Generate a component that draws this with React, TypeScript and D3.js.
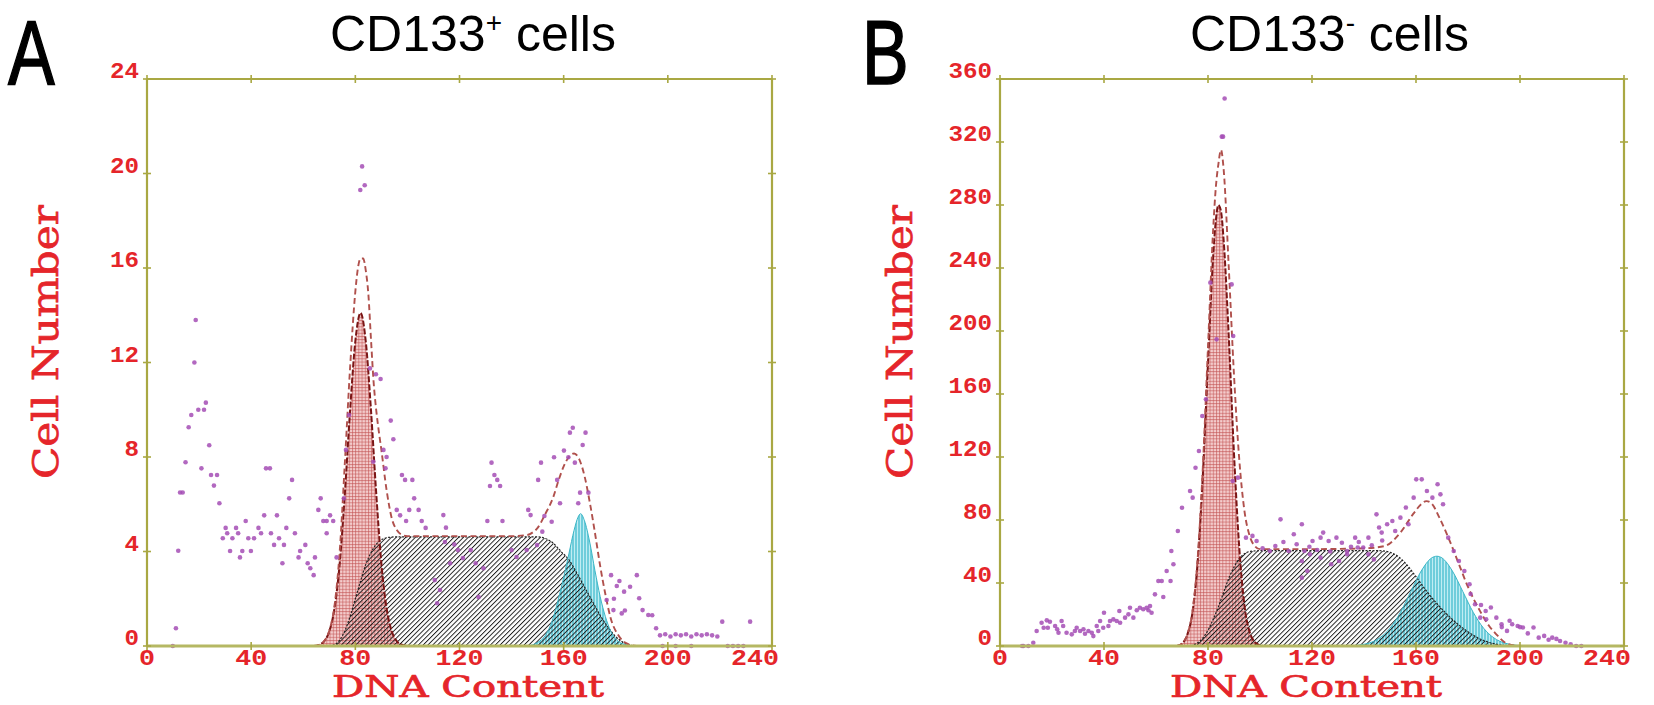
import React from 'react'
import * as d3 from 'd3'

type Pt = [number, number]

const xTicks = [0, 40, 80, 120, 160, 200, 240]
const yTicksA = [0, 4, 8, 12, 16, 20, 24]
const yTicksB = [0, 40, 80, 120, 160, 200, 240, 280, 320, 360]

// Panel A (CD133+) fitted components
const g1A: Pt[] = [[64, 0], [66, 0.05], [68, 0.2], [70, 0.62], [72, 1.6], [74, 3.5], [76, 6.5], [78, 10.0], [80, 12.9], [82, 14.1], [84, 12.9], [86, 10.0], [88, 6.5], [90, 3.5], [92, 1.6], [94, 0.62], [96, 0.2], [98, 0.05], [100, 0]]
const sA: Pt[] = [[70, 0], [72, 0.05], [74, 0.25], [76, 0.65], [78, 1.25], [80, 2.0], [82, 2.75], [84, 3.45], [86, 3.95], [88, 4.3], [90, 4.5], [93, 4.6], [96, 4.62], [150, 4.62], [153, 4.55], [156, 4.35], [159, 4.0], [162, 3.65], [165, 3.1], [168, 2.5], [171, 1.9], [174, 1.3], [177, 0.8], [180, 0.4], [183, 0.15], [186, 0.03], [188, 0]]
const g2A: Pt[] = [[146, 0], [150, 0.15], [153, 0.45], [156, 1.2], [158, 2.0], [160, 2.9], [162, 3.9], [164, 4.9], [165.5, 5.45], [166.5, 5.6], [168, 5.3], [170, 4.4], [172, 3.2], [174, 2.1], [176, 1.25], [178, 0.65], [181, 0.2], [184, 0.05], [186, 0]]
const fitA: Pt[] = [[64, 0], [66, 0.05], [68, 0.2], [70, 0.65], [72, 1.7], [74, 4.0], [76, 7.8], [78, 11.8], [80, 15.0], [81, 16.0], [82, 16.4], [83, 16.4], [84, 15.9], [85, 14.9], [86, 13.0], [87, 11.2], [88, 10.0], [89, 9.1], [90, 8.3], [92, 6.6], [94, 5.4], [96, 4.9], [98, 4.7], [100, 4.65], [140, 4.65], [146, 4.7], [148, 4.8], [150, 5.0], [153, 5.6], [156, 6.3], [158, 7.0], [160, 7.6], [162, 8.0], [164, 8.15], [166, 7.9], [168, 7.2], [170, 6.1], [172, 4.8], [174, 3.4], [176, 2.2], [178, 1.2], [181, 0.45], [184, 0.12], [188, 0]]
const pointsA: Pt[] = [
  [9.9, 0], [11.1, 0.75], [12.0, 4.03], [12.7, 6.5], [13.7, 6.5], [14.8, 7.78], [16.0, 9.26], [17.0, 9.78], [18.2, 12.0], [18.7, 13.8],
  [19.7, 10.0], [21.9, 10.0], [22.6, 10.3], [20.9, 7.52], [23.9, 8.5], [24.6, 7.24], [26.9, 7.24], [25.7, 6.79], [27.8, 6.04], [30.2, 5.0],
  [34.2, 5.0], [29.1, 4.56], [32.8, 4.56], [30.8, 4.77], [35.0, 4.77], [31.9, 4.02], [35.7, 3.75], [36.6, 4.02], [39.9, 4.02], [37.9, 5.29],
  [38.9, 4.56], [41.1, 4.56], [42.8, 5.0], [43.8, 4.77], [45.0, 5.53], [45.7, 7.52], [47.2, 7.52], [47.6, 4.77], [48.8, 4.28], [49.9, 5.53],
  [50.7, 4.56], [52.0, 3.5], [52.6, 4.28], [53.5, 5.0], [54.6, 6.25], [55.7, 7.03], [56.8, 4.77], [58.2, 3.75], [58.8, 4.02], [60.8, 4.28],
  [61.7, 3.5], [62.7, 3.29], [64.0, 3.0], [64.5, 3.75], [65.8, 5.76], [66.7, 6.25], [67.7, 5.29], [69.0, 5.29], [70.3, 5.53], [69.0, 4.77],
  [71.5, 5.29], [72.8, 3.75], [75.6, 6.25], [76.4, 8.3], [77.6, 9.78], [81.9, 19.3], [82.6, 20.3], [83.6, 19.5],
  [85.6, 11.75], [87.9, 11.5], [89.7, 11.3], [86.9, 7.8], [90.8, 8.3], [92.0, 8.0], [91.6, 7.52], [93.6, 9.54], [94.6, 8.75], [97.9, 7.24],
  [101.9, 7.03], [99.1, 7.03], [95.9, 5.76], [97.2, 5.53], [99.5, 5.29], [100.7, 5.76], [104.3, 5.76], [102.6, 6.25], [105.5, 5.29], [107.0, 5.0],
  [113.8, 5.54], [114.8, 5.01], [110.5, 2.79], [112.5, 2.37], [116.4, 3.5], [119.4, 4.06], [121.3, 3.72], [124.3, 4.06], [126.2, 3.5], [129.2, 3.29],
  [127.3, 2.07], [111.4, 1.81], [114.4, 4.4], [118.0, 4.3], [140.0, 4.06], [141.9, 3.77], [145.8, 4.06], [149.8, 4.27], [151.8, 4.84],
  [130.7, 5.29], [136.5, 5.29], [132.3, 7.76], [133.4, 7.24], [134.5, 7.03], [131.7, 6.77], [135.6, 6.77], [146.4, 5.76], [147.3, 5.54], [150.2, 7.03],
  [151.3, 7.76], [152.6, 5.5], [155.4, 5.26], [156.3, 7.99], [157.5, 7.03], [158.6, 6.04], [160.1, 8.27], [161.8, 7.99], [162.4, 9.03], [163.5, 9.24],
  [167.3, 8.51], [168.4, 9.03], [164.3, 7.76], [166.3, 6.49], [169.5, 6.49], [165.6, 6.04],
  [178.2, 3.0], [181.4, 2.75], [180.4, 2.54], [183.2, 2.3], [185.5, 2.51], [188.1, 3.0], [189.0, 2.02], [190.3, 1.52], [192.5, 1.31], [176.5, 1.95],
  [179.1, 1.52], [182.3, 1.38], [179.3, 2.0], [183.5, 1.5], [194.0, 1.3], [195.5, 0.75], [197.0, 0.45], [199.0, 0.5], [201.0, 0.4], [203.0, 0.5],
  [205.0, 0.45], [207.0, 0.5], [209.0, 0.4], [211.0, 0.5], [213.0, 0.45], [215.0, 0.5], [217.0, 0.45], [219.0, 0.4], [220.9, 1.03], [231.6, 1.03],
  [198.0, 0], [203.0, 0], [209.0, 0], [223.0, 0], [225.0, 0], [227.0, 0], [229.0, 0],
]

// Panel B (CD133-) fitted components
const g1B: Pt[] = [[68, 0], [70, 1.5], [72, 7], [74, 21], [76, 53], [78, 108], [80, 180], [82, 248], [83, 270], [84, 280], [85, 276], [86, 258], [88, 196], [90, 122], [92, 63], [94, 26], [96, 9], [98, 2.5], [100, 0.5], [102, 0]]
const sB: Pt[] = [[72, 0], [74, 0.5], [76, 2], [78, 5], [80, 10], [82, 17], [84, 25], [86, 34], [88, 43], [90, 50], [92, 55.5], [94, 58.5], [96, 60], [100, 60.5], [146, 60.5], [150, 59.5], [153, 57], [156, 52.5], [160, 44], [164, 35], [168, 27], [172, 20], [176, 14], [180, 9], [184, 5], [188, 2.3], [192, 0.8], [196, 0.1], [198, 0]]
const g2B: Pt[] = [[134, 0], [138, 0.6], [142, 1.9], [146, 5.1], [150, 11.3], [154, 21.4], [158, 34.6], [162, 47.6], [166, 55.9], [168, 57], [170, 55.9], [174, 47.6], [178, 34.6], [182, 21.4], [186, 11.3], [190, 5.1], [194, 1.9], [198, 0.6], [202, 0]]
const fitB: Pt[] = [[68, 0], [70, 1.5], [72, 7], [74, 21.5], [76, 55], [78, 113], [80, 190], [82, 265], [83, 291], [84, 306], [85, 315], [86, 303], [88, 240], [90, 172], [92, 119], [94, 86], [96, 70], [98, 63.5], [100, 61.5], [120, 61.5], [140, 62], [148, 63.5], [154, 72], [159, 84], [162, 90], [164, 92], [166, 90.5], [169, 81.5], [173.5, 64.6], [176.5, 52], [179.6, 39], [184.7, 22], [188, 13], [190.8, 7.6], [195, 1.5], [200, 0]]
const pointsB: Pt[] = [
  [8.5, 0], [9.0, 0], [10.9, 0], [12.8, 2.1], [14.1, 9.5], [16.0, 14.8], [18.0, 16.3], [19.2, 15.4], [16.8, 11.6], [18.4, 11.6],
  [21.2, 12.7], [23.7, 15.9], [24.3, 12.7], [22.5, 8.4], [22.0, 10.6], [25.6, 8.4], [27.6, 7.4], [28.8, 9.5], [29.5, 11.6], [30.8, 9.5],
  [32.1, 10.6], [32.7, 7.8], [34.0, 9.5], [35.3, 8.4], [35.9, 6.3], [37.2, 12.7], [38.5, 15.9], [37.8, 9.5], [40.0, 21.1], [39.7, 11.6],
  [41.7, 12.7], [42.3, 15.9], [43.6, 16.9], [44.9, 15.9], [45.9, 22.2], [46.2, 14.8], [48.1, 18], [49.4, 20.1], [50.0, 24.3], [51.3, 18],
  [52.6, 22.7], [53.8, 24.3], [55.1, 23.3], [56.4, 24.3], [57.1, 22.7], [58.3, 21.1], [57.7, 25.4], [59.6, 32.8], [62.8, 31.1], [60.9, 41.3],
  [62.2, 41.3], [65.6, 41.3], [64.1, 47.6], [66.7, 51.9], [65.9, 60.3], [68.4, 73], [70.0, 87.8], [73.1, 98.4], [74.1, 94.2], [75.2, 113.2],
  [76.5, 123.8], [77.8, 146], [79.2, 156.6], [80.9, 230.7], [83.3, 194.7], [85.3, 323.4], [85.8, 323.4], [86.4, 347.6], [89.1, 229.6], [89.7, 196.8],
  [89.5, 104.8], [91.5, 106.9], [94.6, 68.8], [97.1, 69.9], [98.7, 66.7], [101.0, 62], [103.8, 60.3], [105.9, 63.5], [107.9, 80.4], [109.0, 66],
  [111.0, 60.3], [113.0, 71], [114.1, 64.6], [116.1, 77.3], [117.1, 60.3], [119.0, 63], [120.2, 66.7], [122.0, 61], [123.3, 68.8], [124.3, 72.0],
  [126.4, 66.7], [127.0, 60], [129.4, 68.8], [131.5, 65.6], [133.5, 60.3], [135.0, 63], [136.6, 68.8], [138.0, 66], [139.7, 62.5], [141.7, 68.8],
  [143.0, 64], [144.8, 83.6], [145.8, 75.2], [146.8, 72.0], [147.0, 67], [148.9, 77.3], [150.9, 79.4], [152.0, 73.0], [154.0, 81.5], [156.1, 87.9],
  [157.1, 77.3], [159.1, 94.2], [160.1, 105.8], [162.2, 105.8], [164.2, 98.4], [166.3, 94.2], [168.3, 102.7], [169.4, 96.3], [170.4, 90.0], [172.4, 68.8],
  [174.5, 60.3], [176.5, 54.0], [178.6, 47.6], [180.6, 39.2], [181.0, 33], [182.7, 26.5], [184.7, 18.0], [185.0, 26], [186.8, 22.2], [187.0, 17],
  [188.8, 24.4], [190.9, 18.0], [192.9, 13.8], [193.0, 12], [195.0, 9.6], [196.0, 16], [197.0, 13.8], [199.1, 12.7], [200.0, 12], [201.1, 11.7],
  [203.0, 8], [205.2, 11.7], [207.2, 5.3], [209.3, 6.4], [211.0, 4], [212.4, 5.3], [214.0, 4.5], [215.4, 3.2], [217.5, 2.1], [219.5, 1.1],
  [221.6, 0], [223.6, 0], [116.1, 54], [119.2, 58.2], [123.3, 56.1], [127.4, 51.9], [130.4, 54], [133.5, 58.2], [137.6, 62.5], [141.7, 58.2],
  [143.8, 55], [116.1, 43.4], [118.2, 47.6],
]

const AXIS = '#a9a843'
const RED = '#e5252a'
const TOP = 79
const BOTTOM = 646

interface PanelProps {
  left: number
  right: number
  yMax: number
  yTicks: number[]
  g1: Pt[]
  s: Pt[]
  g2: Pt[]
  fit: Pt[]
  points: Pt[]
  letter: string
  letterX: number
  titleX: number
  sup: string
  yTitleX: number
  xTitleX: number
}

function Panel(p: PanelProps) {
  const x = d3.scaleLinear().domain([0, 240]).range([p.left, p.right])
  const y = d3.scaleLinear().domain([0, p.yMax]).range([BOTTOM, TOP])
  const area = d3.area<Pt>().x(d => x(d[0])).y0(BOTTOM).y1(d => y(d[1])).curve(d3.curveMonotoneX)
  const line = d3.line<Pt>().x(d => x(d[0])).y(d => y(d[1])).curve(d3.curveMonotoneX)

  const tickFont = {
    fontFamily: '"Liberation Mono", monospace',
    fontWeight: 700,
    fontSize: 22,
    fill: RED,
  }

  return (
    <g>
      {/* panel letter, tall and narrow like the original */}
      <text transform={`translate(${p.letterX},84) scale(1,1.3)`} fontFamily='"Liberation Sans", Arial, sans-serif'
        fontSize={70} stroke="#000" strokeWidth={1.2}>{p.letter}</text>
      <text x={p.titleX} y={51} fontFamily='"Liberation Sans", Arial, sans-serif' fontSize={50}>
        CD133<tspan dy={-19} fontSize={28}>{p.sup}</tspan><tspan dy={19}> cells</tspan>
      </text>

      {/* fitted components */}
      <path d={area(p.g1) ?? ''} fill="url(#g1grid)" />
      <path d={area(p.g2) ?? ''} fill="url(#g2lines)" />
      <path d={area(p.s) ?? ''} fill="url(#shatch)" />
      <path d={line(p.s) ?? ''} fill="none" stroke="#222" strokeWidth={1.2} strokeDasharray="2 1.5" />
      <path d={line(p.g2) ?? ''} fill="none" stroke="#3bb6c6" strokeWidth={1} />
      <path d={line(p.g1) ?? ''} fill="none" stroke="#7a1515" strokeWidth={2} strokeDasharray="6 2" />
      <path d={line(p.fit) ?? ''} fill="none" stroke="#b0504c" strokeWidth={1.9} strokeDasharray="6 3.5" />

      {p.points.map((d, i) => (
        <circle key={i} cx={x(d[0])} cy={y(d[1])} r={2.3} fill="#a44db5" opacity={0.85} />
      ))}

      {/* frame */}
      <line x1={p.left} x2={p.right} y1={TOP} y2={TOP} stroke={AXIS} strokeWidth={2.2} />
      <line x1={p.left} x2={p.left} y1={TOP} y2={BOTTOM} stroke={AXIS} strokeWidth={2.2} />
      <line x1={p.right} x2={p.right} y1={TOP} y2={BOTTOM} stroke={AXIS} strokeWidth={2.2} />
      <line x1={p.left} x2={p.right} y1={BOTTOM} y2={BOTTOM} stroke="#b5b863" strokeWidth={3} />
      {xTicks.map(t => (
        <g key={'xt' + t}>
          <line x1={x(t)} x2={x(t)} y1={TOP - 4} y2={TOP + 4} stroke={AXIS} strokeWidth={1.6} />
          <line x1={x(t)} x2={x(t)} y1={BOTTOM - 4} y2={BOTTOM + 4} stroke={AXIS} strokeWidth={1.6} />
        </g>
      ))}
      {p.yTicks.map(t => (
        <g key={'yt' + t}>
          <line x1={p.left - 4} x2={p.left + 4} y1={y(t)} y2={y(t)} stroke={AXIS} strokeWidth={1.6} />
          <line x1={p.right - 4} x2={p.right + 4} y1={y(t)} y2={y(t)} stroke={AXIS} strokeWidth={1.6} />
        </g>
      ))}

      {/* tick labels */}
      {xTicks.map((t, i) => {
        const s = String(t)
        const last = i === xTicks.length - 1
        return (
          <text key={'xl' + t} x={last ? x(t) + 7 : x(t)} y={665} textAnchor={last ? 'end' : 'middle'}
            textLength={16 * s.length} lengthAdjust="spacingAndGlyphs" {...tickFont}>{s}</text>
        )
      })}
      {p.yTicks.map(t => {
        const s = String(t)
        return (
          <text key={'yl' + t} x={p.left - 8} y={y(t) - 1} textAnchor="end"
            textLength={14.5 * s.length} lengthAdjust="spacingAndGlyphs" {...tickFont}>{s}</text>
        )
      })}

      {/* axis titles */}
      <text x={p.xTitleX} y={697} textAnchor="middle" fontFamily='"DejaVu Serif", serif' fontSize={30} fill={RED}
        stroke={RED} strokeWidth={0.7} textLength={272} lengthAdjust="spacingAndGlyphs">DNA Content</text>
      <text transform={`translate(${p.yTitleX},342) rotate(-90)`} textAnchor="middle"
        fontFamily='"DejaVu Serif", serif' fontSize={35} fill={RED} stroke={RED} strokeWidth={0.7}
        textLength={274} lengthAdjust="spacingAndGlyphs">Cell Number</text>
    </g>
  )
}

export default function App() {
  return (
    <svg width={1654} height={705} style={{ position: 'absolute', left: 0, top: 0, background: '#fff' }}>
      <defs>
        <pattern id="g1grid" patternUnits="userSpaceOnUse" width={3.2} height={3.2}>
          <rect width={3.2} height={3.2} fill="#f3cccc" />
          <path d="M0 0.5H3.2M0.5 0V3.2" stroke="#c25353" strokeWidth={0.6} />
        </pattern>
        <pattern id="g2lines" patternUnits="userSpaceOnUse" width={3} height={3}>
          <rect width={3} height={3} fill="#6fcddb" />
          <path d="M1.5 0V3" stroke="#c9f1f6" strokeWidth={0.9} />
        </pattern>
        <pattern id="shatch" patternUnits="userSpaceOnUse" width={3.4} height={3.4} patternTransform="rotate(45)">
          <path d="M0 0V3.4" stroke="#1c1c1c" strokeWidth={1.9} />
        </pattern>
      </defs>
      <Panel left={147} right={772} yMax={24} yTicks={yTicksA} g1={g1A} s={sA} g2={g2A} fit={fitA}
        points={pointsA} letter="A" letterX={8} titleX={330} sup="+" yTitleX={58} xTitleX={468} />
      <Panel left={1000} right={1624} yMax={360} yTicks={yTicksB} g1={g1B} s={sB} g2={g2B} fit={fitB}
        points={pointsB} letter="B" letterX={862} titleX={1190} sup="-" yTitleX={912} xTitleX={1306} />
    </svg>
  )
}
